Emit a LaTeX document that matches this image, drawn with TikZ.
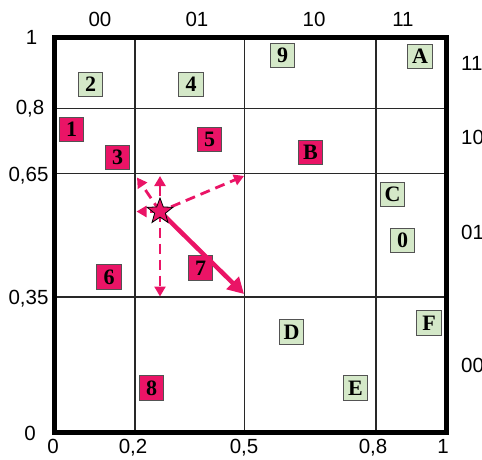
\documentclass[tikz,border=0pt]{standalone}
\usepackage{fontspec}
\setmainfont{Liberation Serif}
\setsansfont{Liberation Sans}
\usetikzlibrary{shapes.geometric,arrows.meta}
\definecolor{hot}{RGB}{234,20,102}
\definecolor{pale}{RGB}{212,232,200}
\definecolor{gridc}{RGB}{40,40,40}
\tikzset{
  cell/.style={draw=gridc!80, line width=0.8pt, minimum size=24.5pt, inner sep=0pt, font=\fontsize{22}{22}\selectfont\bfseries},
  gbox/.style={cell, fill=pale},
  pbox/.style={cell, fill=hot},
  axl/.style={font=\sffamily\fontsize{20.5}{20.5}\selectfont, inner sep=0pt, anchor=base},
  gline/.style={draw=gridc, line width=1.1pt},
  frame/.style={draw=black, line width=5pt},
  darr/.style={draw=hot, line width=2.8pt, dash pattern=on 10pt off 6pt, -{Triangle[length=10pt,width=11pt]}},
  sarr/.style={draw=hot, line width=4.5pt, -{Triangle[length=16pt,width=17pt]}},
}
\begin{document}
\begin{tikzpicture}[x=1pt,y=-1pt]
\useasboundingbox (0,0) rectangle (482,459);
% grid
\draw[gline] (135,37.5) -- (135,432);
\draw[gline] (244.5,37.5) -- (244.5,432);
\draw[gline] (376,37.5) -- (376,432);
\draw[gline] (54.5,108.3) -- (446.5,108.3);
\draw[gline] (54.5,173.5) -- (446.5,173.5);
\draw[gline] (54.5,297) -- (446.5,297);
\draw[frame] (54.5,37.5) rectangle (446.5,432.5);
% axis labels
\node[axl] (t00) at (100,26) {00};
\node[axl] (t01) at (197,26) {01};
\node[axl] (t10) at (314,26) {10};
\node[axl] (t11) at (403,26) {11};
\node[axl] (l1) at (31.5,44) {1};
\node[axl] (l08) at (30,114) {0,8};
\node[axl] (l065) at (28.5,181) {0,65};
\node[axl] (l035) at (28.5,304) {0,35};
\node[axl] (l0) at (30,440) {0};
\node[axl] (b0) at (53,453) {0};
\node[axl] (b02) at (133,453) {0,2};
\node[axl] (b05) at (244,453) {0,5};
\node[axl] (b08) at (373,453) {0,8};
\node[axl] (b1) at (443,453) {1};
\node[axl, anchor=base west] (r11) at (461,70) {11};
\node[axl, anchor=base west] (r10) at (461,144) {10};
\node[axl, anchor=base west] (r01) at (461,239) {01};
\node[axl, anchor=base west] (r00) at (461,372) {00};
% boxes
\node[gbox] (n2) at (90.5,84.5) {2};
\node[gbox] (n4) at (191,84.5) {4};
\node[gbox] (n9) at (282.5,55.5) {9};
\node[gbox] (nA) at (420,56.5) {A};
\node[pbox] (n1) at (71.5,129.5) {1};
\node[pbox] (n3) at (117.5,157.5) {3};
\node[pbox] (n5) at (209.5,139.5) {5};
\node[pbox] (nB) at (310.5,152.5) {B};
\node[gbox] (nC) at (392.5,194.5) {C};
\node[gbox] (n0) at (402.5,240.5) {0};
\node[pbox] (n6) at (109,277) {6};
\node[pbox] (n7) at (200.5,268) {7};
\node[gbox] (nD) at (291.5,332) {D};
\node[gbox] (nE) at (355.5,388) {E};
\node[gbox] (nF) at (429,323) {F};
\node[pbox] (n8) at (151.5,388) {8};
% star and arrows
\coordinate (s) at (160,211.5);
\coordinate (tu) at (160,176);
\coordinate (td) at (160,296.5);
\coordinate (tl) at (136.5,211.5);
\coordinate (tul) at (137,177.5);
\coordinate (tur) at (244,176);
\coordinate (tdr) at (244,294);
\draw[darr] (s) -- (tu);
\draw[darr] (s) -- (td);
\draw[darr] (s) -- (tl);
\draw[darr] (s) -- (tul);
\draw[darr, dash phase=4pt] (s) -- (tur);
\draw[sarr] (s) -- (tdr);
\node[star, star points=5, star point ratio=2.4, draw=black, line width=0.8pt, fill=hot, minimum size=27pt, inner sep=0pt] (st) at (s) {};
\end{tikzpicture}
\end{document}
